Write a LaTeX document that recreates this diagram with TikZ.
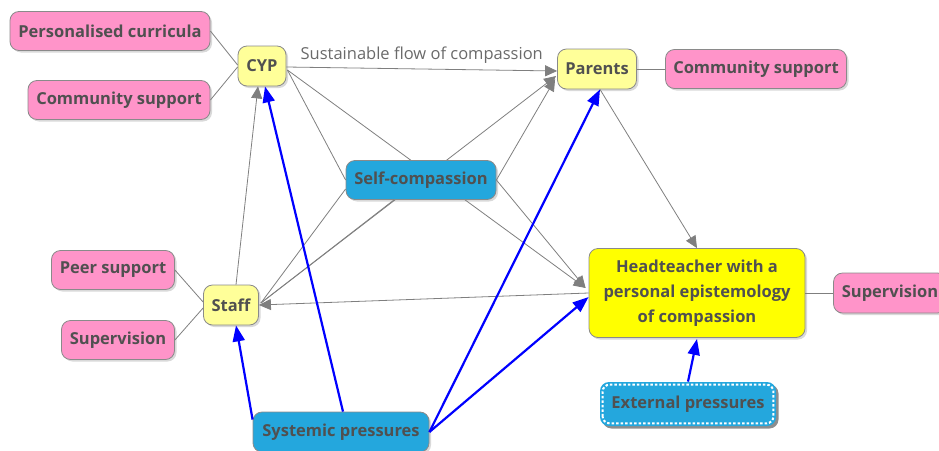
\documentclass[tikz,border=0pt]{standalone}
\usepackage{fontspec}
\setmainfont{Open Sans}
\usetikzlibrary{arrows.meta,shadows,calc}
\definecolor{pinkc}{HTML}{FF94C9}
\definecolor{ylw}{HTML}{FFFF99}
\definecolor{ylwd}{HTML}{FFFF00}
\definecolor{bluec}{HTML}{24A7DD}
\definecolor{txt}{HTML}{505050}
\definecolor{edgec}{HTML}{7F7F7F}
\definecolor{bordc}{HTML}{8A8A8A}
\tikzset{
  box/.style={draw=bordc, line width=0.8pt, rounded corners=9pt, inner sep=0pt,
    text=txt, font=\bfseries\fontsize{16.5}{25}\selectfont, align=center,
    drop shadow={opacity=0.3, shadow xshift=2pt, shadow yshift=-2pt}},
  pinkbox/.style={box, fill=pinkc},
  ylwbox/.style={box, fill=ylw},
  bluebox/.style={box, fill=bluec},
  gline/.style={draw=edgec, line width=0.8pt},
  garrow/.style={gline, -{Triangle[length=12pt,width=11pt]}},
  barrow/.style={draw=blue, line width=2.2pt, -{Triangle[length=16pt,width=12pt]}},
  lbl/.style={text=txt!85, font=\fontsize{16.5}{19}\selectfont, inner sep=2pt}
}
\begin{document}
\begin{tikzpicture}[x=1pt,y=-1pt]
\useasboundingbox (0,0) rectangle (939,450);
\clip (0,0) rectangle (939,450);
% nodes
\node[pinkbox, minimum width=200pt, minimum height=39pt] (pc) at (110,31) {Personalised curricula};
\node[pinkbox, minimum width=182pt, minimum height=39pt] (csl) at (119,100) {Community support};
\node[ylwbox, minimum width=48pt, minimum height=40pt] (cyp) at (262,66) {CYP};
\node[ylwbox, minimum width=79pt, minimum height=40pt] (par) at (597,69) {Parents};
\node[pinkbox, minimum width=181pt, minimum height=39pt] (csr) at (756,69) {Community support};
\node[pinkbox, minimum width=123pt, minimum height=39pt] (peer) at (113,270) {Peer support};
\node[pinkbox, minimum width=113pt, minimum height=39pt] (supl) at (118,340) {Supervision};
\node[ylwbox, minimum width=55pt, minimum height=40pt] (staff) at (231,305) {Staff};
\node[box, fill=ylwd, minimum width=216pt, minimum height=89pt] (hd) at (697,293) {Headteacher with a\\personal epistemology\\of compassion};
\node[pinkbox, minimum width=113pt, minimum height=40pt] (supr) at (890,293) {Supervision};
\node[box, fill=bluec, draw=none, minimum width=176pt, minimum height=44pt,
  drop shadow={opacity=0.85, shadow xshift=2.5pt, shadow yshift=-2.5pt}] (ext) at (688,404) {External pressures};
\draw[white, line width=2pt, dash pattern=on 2.5pt off 2pt, rounded corners=7pt]
  ($(ext.south west)+(3,-3)$) rectangle ($(ext.north east)+(-3,3)$);
\node[bluebox, minimum width=176pt, minimum height=40pt] (sys) at (341,432) {Systemic pressures};
% helper points
\coordinate (cypo) at ($(cyp.east)+(1,4)$);
\coordinate (hin) at ($(hd.west)+(-3,-5)$);
\coordinate (sout) at ($(staff.east)+(2,-2)$);
% grey connectors (drawn under self-compassion)
\draw[garrow] (cypo) -- (hin);
\draw[garrow] (sout) -- ($(par.west)+(-1,7)$);
\node[bluebox, minimum width=150pt, minimum height=39pt] (sc) at (421,180) {Self-compassion};
\draw[gline] (pc.east) -- ($(cyp.west)+(0,-1)$);
\draw[gline] (csl.east) -- ($(cyp.west)+(0,1)$);
\draw[garrow] ($(cyp.east)+(0,1)$) -- ($(par.west)+(0,2)$)
  node[lbl, midway, above, yshift=3pt] (flow) {Sustainable flow of compassion};
\draw[gline] (cypo) -- (sc.west);
\draw[garrow] (sc.east) -- ($(par.west)+(-2,10)$);
\draw[garrow] (sc.east) -- (hin);
\draw[gline] (sout) -- ($(sc.west)+(0,9)$);
\draw[gline] (sout) -- ($(sc.south)+(-27,0)$);
\draw[garrow] ($(staff.north)+(5,0)$) -- ($(cyp.south)+(-4,0)$);
\draw[garrow] ($(par.south)+(3,0)$) -- (hd.north);
\draw[garrow] (hd.west) -- (staff.east);
\draw[gline] (par.east) -- (csr.west);
\draw[gline] (peer.east) -- ($(staff.west)+(0,-3)$);
\draw[gline] (supl.east) -- ($(staff.west)+(0,3)$);
\draw[gline] (hd.east) -- (supr.west);
% blue connectors
\draw[barrow] ($(sys.north west)+(0,8)$) -- ($(staff.south)+(5,0)$);
\draw[barrow] ($(sys.north)+(2,0)$) -- ($(cyp.south)+(3,0)$);
\draw[barrow] (sys.east) -- ($(par.south)+(3,0)$);
\draw[barrow] (sys.east) -- ($(hd.west)+(0,4)$);
\draw[barrow] (ext.north) -- ($(hd.south)+(0,1)$);
\end{tikzpicture}
\end{document}
